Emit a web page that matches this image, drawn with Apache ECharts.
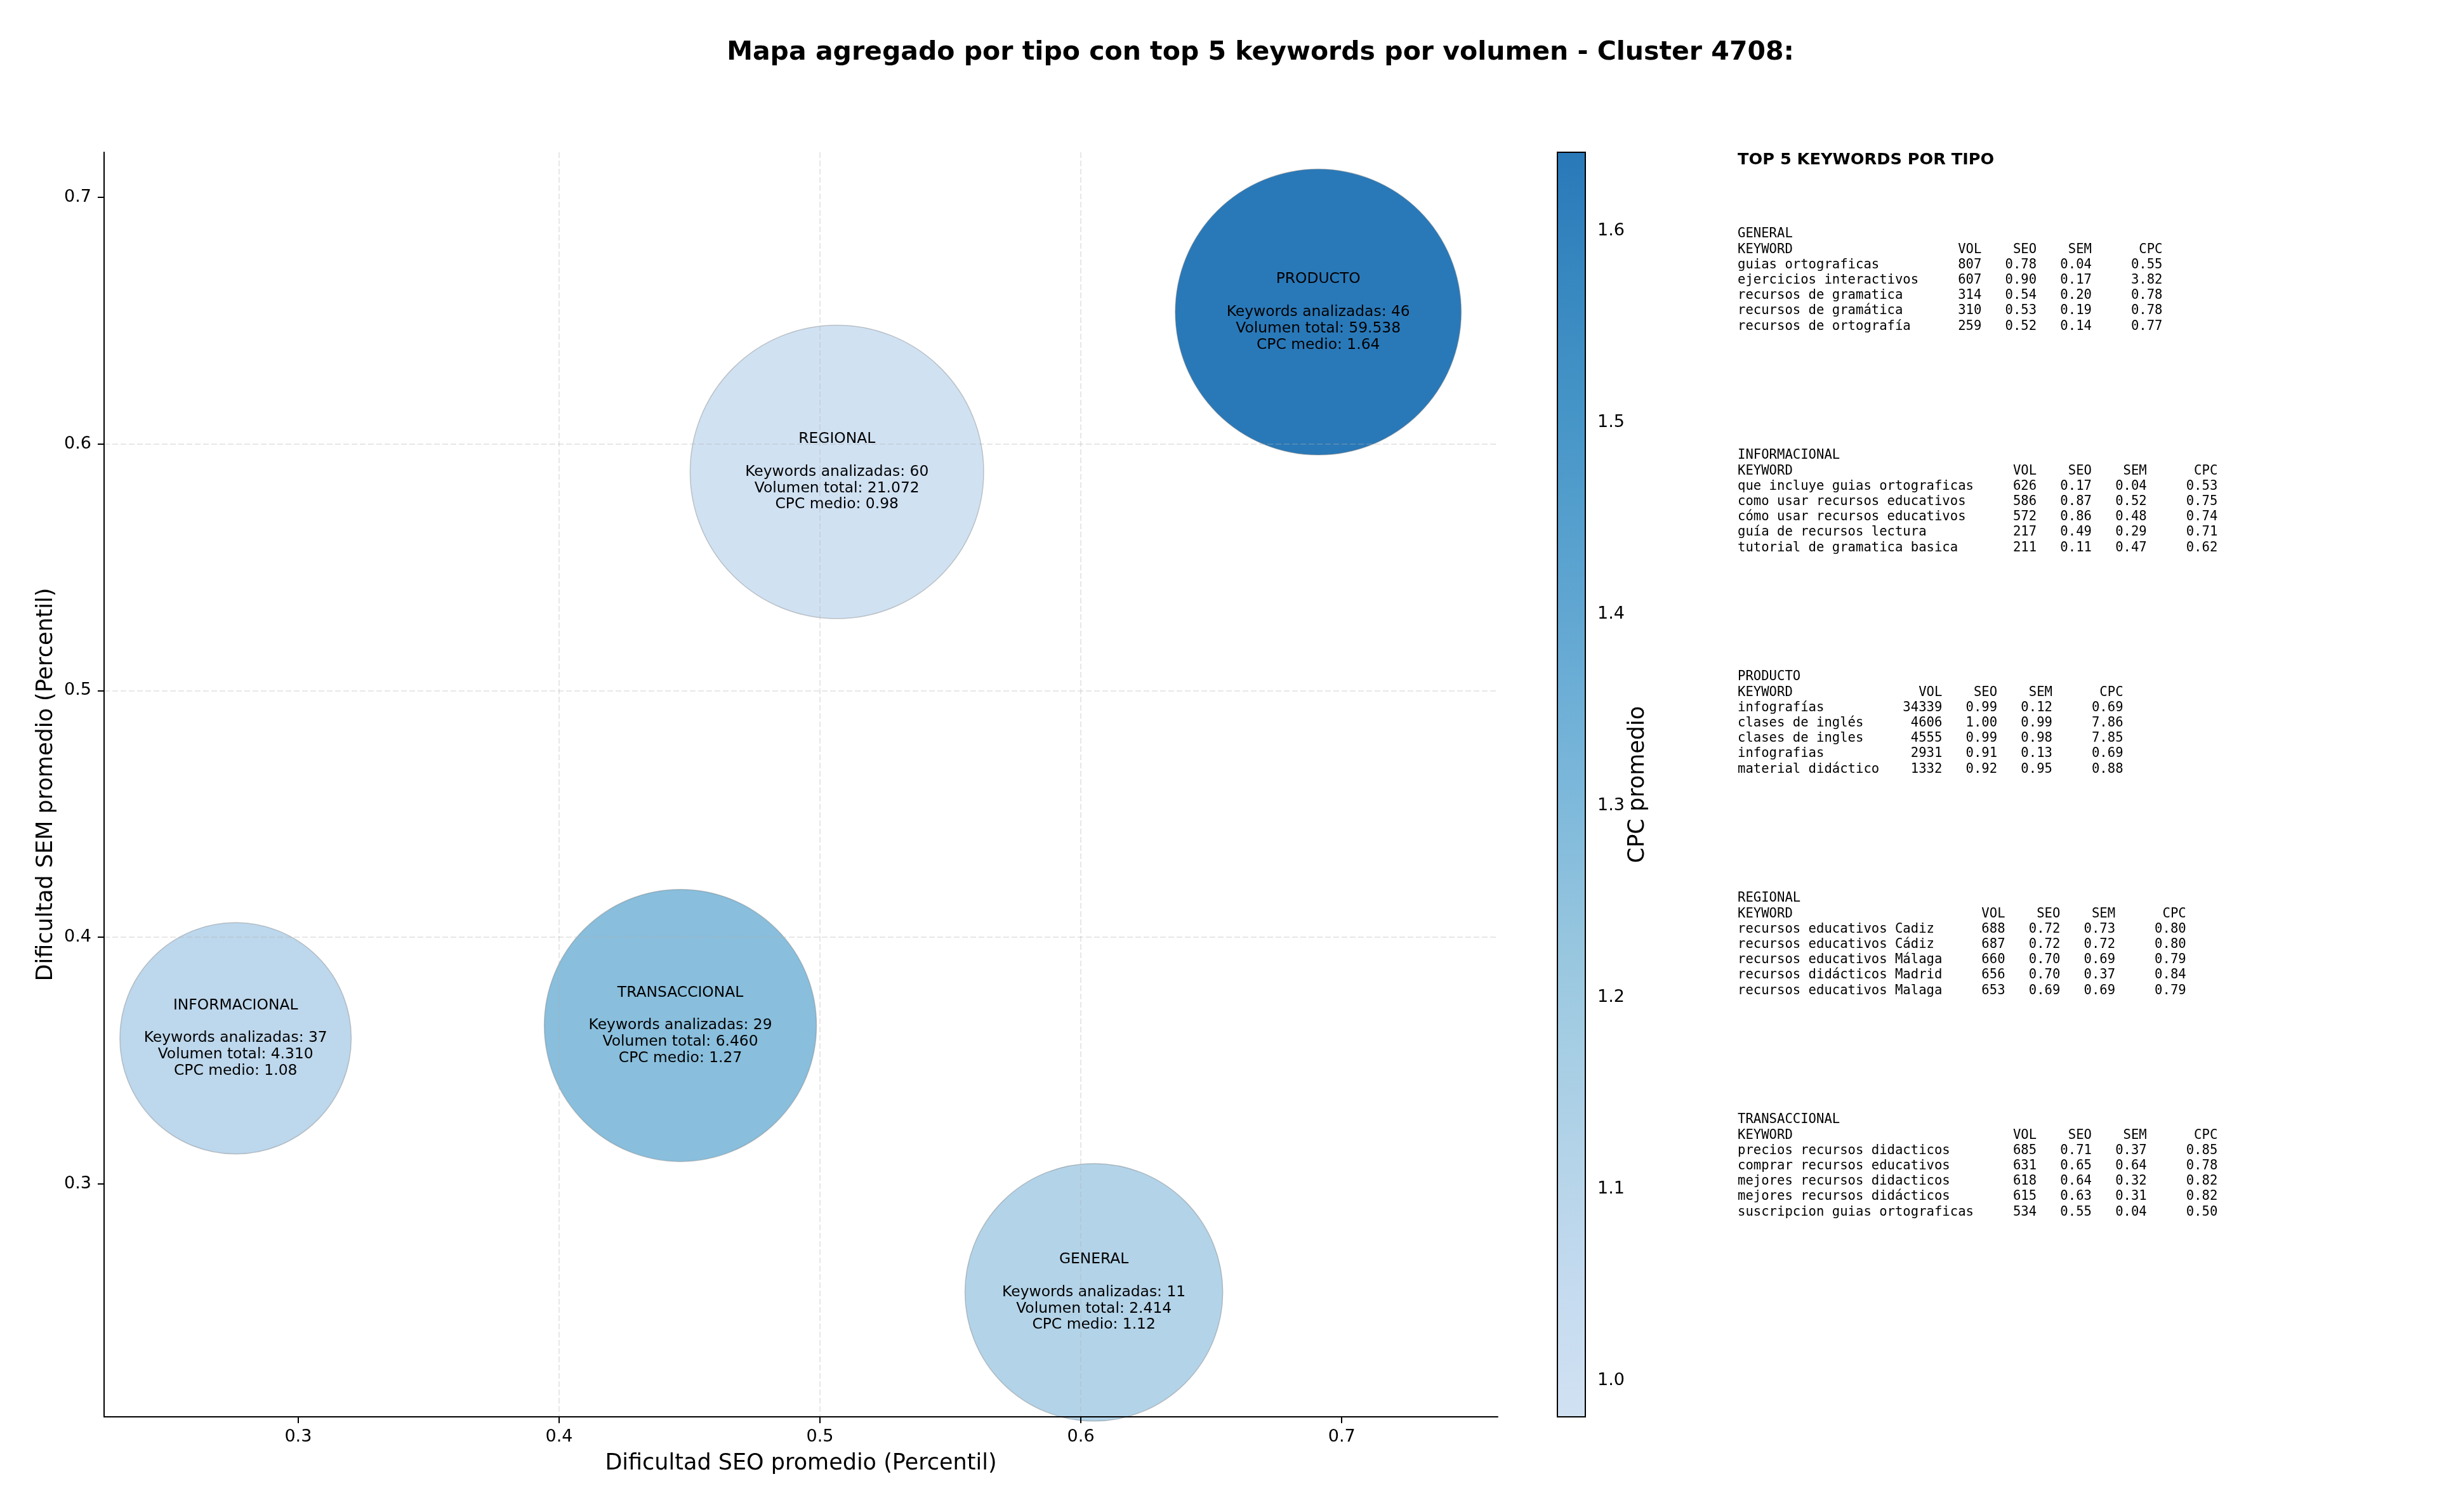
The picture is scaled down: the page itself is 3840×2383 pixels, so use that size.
<!DOCTYPE html>
<html>
<head>
<meta charset="utf-8">
<script src="https://cdn.jsdelivr.net/npm/echarts@6/dist/echarts.min.js"></script>
<style>
  html, body { margin: 0; padding: 0; background: #fff; }
  #chart { width: 3840px; height: 2383px; }
</style>
</head>
<body>
<div id="chart"></div>
<script>
// datos agregados por tipo
const tipos = ['GENERAL', 'INFORMACIONAL', 'PRODUCTO', 'REGIONAL', 'TRANSACCIONAL'];
const seoMedio = [0.605, 0.276, 0.691, 0.5065, 0.4465];
const semMedio = [0.256, 0.359, 0.6535, 0.5887, 0.3642];
const keywordsAnalizadas = [11, 37, 46, 60, 29];
const volumenTotal = [2414, 4310, 59538, 21072, 6460];
const cpcMedio = [1.12, 1.08, 1.641, 0.981, 1.27];
const pesoBurbuja = [16.5, 13.3, 20.3, 21.4, 18.4];

const xTicks = [0.3, 0.4, 0.5, 0.6, 0.7];
const yTicks = [0.3, 0.4, 0.5, 0.6, 0.7];
const cpcTicks = [1.0, 1.1, 1.2, 1.3, 1.4, 1.5, 1.6];

// top 5 keywords: keyword, vol, seo, sem, cpc
const topGeneral = [
  ['guias ortograficas', 807, 0.78, 0.04, 0.55],
  ['ejercicios interactivos', 607, 0.90, 0.17, 3.82],
  ['recursos de gramatica', 314, 0.54, 0.20, 0.78],
  ['recursos de gramática', 310, 0.53, 0.19, 0.78],
  ['recursos de ortografía', 259, 0.52, 0.14, 0.77]
];
const topInformacional = [
  ['que incluye guias ortograficas', 626, 0.17, 0.04, 0.53],
  ['como usar recursos educativos', 586, 0.87, 0.52, 0.75],
  ['cómo usar recursos educativos', 572, 0.86, 0.48, 0.74],
  ['guía de recursos lectura', 217, 0.49, 0.29, 0.71],
  ['tutorial de gramatica basica', 211, 0.11, 0.47, 0.62]
];
const topProducto = [
  ['infografías', 34339, 0.99, 0.12, 0.69],
  ['clases de inglés', 4606, 1.00, 0.99, 7.86],
  ['clases de ingles', 4555, 0.99, 0.98, 7.85],
  ['infografias', 2931, 0.91, 0.13, 0.69],
  ['material didáctico', 1332, 0.92, 0.95, 0.88]
];
const topRegional = [
  ['recursos educativos Cadiz', 688, 0.72, 0.73, 0.80],
  ['recursos educativos Cádiz', 687, 0.72, 0.72, 0.80],
  ['recursos educativos Málaga', 660, 0.70, 0.69, 0.79],
  ['recursos didácticos Madrid', 656, 0.70, 0.37, 0.84],
  ['recursos educativos Malaga', 653, 0.69, 0.69, 0.79]
];
const topTransaccional = [
  ['precios recursos didacticos', 685, 0.71, 0.37, 0.85],
  ['comprar recursos educativos', 631, 0.65, 0.64, 0.78],
  ['mejores recursos didacticos', 618, 0.64, 0.32, 0.82],
  ['mejores recursos didácticos', 615, 0.63, 0.31, 0.82],
  ['suscripcion guias ortograficas', 534, 0.55, 0.04, 0.50]
];
const topPorTipo = [topGeneral, topInformacional, topProducto, topRegional, topTransaccional];

const cpcMin = Math.min(...cpcMedio);
const cpcMax = Math.max(...cpcMedio);

// Blues (recortado)
const bluesBase = ['#f7fbff', '#deebf7', '#c6dbef', '#9ecae1', '#6baed6', '#4292c6', '#2171b5', '#08519c', '#08306b'];
function blues(t) {
  const p = t * 8;
  const i = Math.min(7, Math.floor(p));
  const f = p - i;
  const a = bluesBase[i], b = bluesBase[i + 1];
  const ch = k => {
    const ca = parseInt(a.substr(1 + 2 * k, 2), 16);
    const cb = parseInt(b.substr(1 + 2 * k, 2), 16);
    return Math.round(ca + (cb - ca) * f);
  };
  return 'rgb(' + ch(0) + ',' + ch(1) + ',' + ch(2) + ')';
}
const paleta = [];
for (let k = 0; k <= 20; k++) paleta.push(blues(0.2 + 0.52 * k / 20));

const fmtMiles = v => String(v).replace(/\B(?=(\d{3})+(?!\d))/g, '.');

function tablaTexto(tipo, filas) {
  const w = Math.max(...filas.map(f => f[0].length)) + 2;
  const lineas = [tipo,
    'KEYWORD'.padEnd(w) + 'VOL'.padStart(6) + 'SEO'.padStart(7) + 'SEM'.padStart(7) + 'CPC'.padStart(9)];
  filas.forEach(f => {
    lineas.push(f[0].padEnd(w) + String(f[1]).padStart(6) + f[2].toFixed(2).padStart(7) +
      f[3].toFixed(2).padStart(7) + f[4].toFixed(2).padStart(9));
  });
  return lineas.join('\n');
}

const font = '"DejaVu Sans", sans-serif';

const graficos = [
  {
    type: 'text', x: 1986, y: 83,
    style: { text: 'Mapa agregado por tipo con top 5 keywords por volumen - Cluster 4708:', font: 'bold 41px ' + font, fill: '#000', textAlign: 'center', textVerticalAlign: 'middle' }
  },
  {
    type: 'text', x: 2738, y: 252,
    style: { text: 'TOP 5 KEYWORDS POR TIPO', font: 'bold 25.6px ' + font, fill: '#000', textAlign: 'left', textVerticalAlign: 'middle' }
  }
];
tipos.forEach((t, i) => {
  graficos.push({
    type: 'text', x: 2738, y: 357 + i * 349,
    style: { text: tablaTexto(t, topPorTipo[i]), font: '20.6px "DejaVu Sans Mono", monospace', lineHeight: 24.2, fill: '#000', textAlign: 'left', textVerticalAlign: 'top' }
  });
});

const chart = echarts.init(document.getElementById('chart'));
chart.setOption({
  backgroundColor: '#fff',
  animation: false,
  textStyle: { fontFamily: font },
  graphic: graficos,
  grid: [
    { left: 164, top: 240, width: 2196, height: 1993 },
    { left: 2454, top: 240, width: 44, height: 1993 }
  ],
  xAxis: [
    {
      type: 'value', gridIndex: 0, min: 0.2256, max: 0.7598, z: 3,
      name: 'Dificultad SEO promedio (Percentil)', nameLocation: 'middle', nameGap: 56,
      nameTextStyle: { fontSize: 35, color: '#000', fontFamily: font },
      axisLine: { onZero: false, lineStyle: { color: '#000', width: 2 } },
      axisTick: { customValues: xTicks, length: 10, lineStyle: { color: '#000', width: 2 } },
      axisLabel: { customValues: xTicks, fontSize: 27, color: '#000', margin: 18, formatter: v => v.toFixed(1) },
      splitLine: { show: true, showMinLine: false, showMaxLine: false, lineStyle: { color: 'rgba(176,176,176,0.3)', width: 2, type: [9, 4] } }
    },
    { type: 'value', gridIndex: 1, min: 0, max: 1, show: false }
  ],
  yAxis: [
    {
      type: 'value', gridIndex: 0, min: 0.2055, max: 0.7183, z: 3,
      name: 'Dificultad SEM promedio (Percentil)', nameLocation: 'middle', nameGap: 67,
      nameTextStyle: { fontSize: 35, color: '#000', fontFamily: font },
      axisLine: { onZero: false, lineStyle: { color: '#000', width: 2 } },
      axisTick: { customValues: yTicks, length: 10, lineStyle: { color: '#000', width: 2 } },
      axisLabel: { customValues: yTicks, fontSize: 27, color: '#000', margin: 20, formatter: v => v.toFixed(1) },
      splitLine: { show: true, showMinLine: false, showMaxLine: false, lineStyle: { color: 'rgba(176,176,176,0.3)', width: 2, type: [9, 4] } }
    },
    {
      type: 'value', gridIndex: 1, min: cpcMin, max: cpcMax, position: 'right',
      name: 'CPC promedio', nameLocation: 'middle', nameGap: 64, nameRotate: 90,
      nameTextStyle: { fontSize: 35, color: '#000', fontFamily: font },
      axisLine: { show: false },
      axisTick: { customValues: cpcTicks, length: 10, lineStyle: { color: '#000', width: 2 } },
      axisLabel: { customValues: cpcTicks, fontSize: 27, color: '#000', margin: 19, formatter: v => v.toFixed(1) },
      splitLine: { show: false }
    }
  ],
  visualMap: {
    type: 'continuous', show: false, seriesIndex: 0, dimension: 2,
    min: cpcMin, max: cpcMax, inRange: { color: paleta }
  },
  series: [
    {
      type: 'scatter', xAxisIndex: 0, yAxisIndex: 0, z: 2,
      data: tipos.map((t, i) => [seoMedio[i], semMedio[i], cpcMedio[i], pesoBurbuja[i], t, keywordsAnalizadas[i], volumenTotal[i]]),
      symbolSize: v => Math.sqrt(v[3]) * 100,
      itemStyle: { opacity: 1, borderColor: 'rgba(110,110,110,0.35)', borderWidth: 1.5 },
      emphasis: { disabled: true },
      label: {
        show: true, position: 'inside', color: '#000', fontSize: 23.4, lineHeight: 25.8, align: 'center',
        fontFamily: font,
        formatter: p => p.data[4] + '\n\nKeywords analizadas: ' + p.data[5] + '\nVolumen total: ' + fmtMiles(p.data[6]) + '\nCPC medio: ' + p.data[2].toFixed(2)
      }
    },
    {
      type: 'custom', xAxisIndex: 1, yAxisIndex: 1, silent: true,
      data: [[0, cpcMin, cpcMax]],
      renderItem: (params, api) => {
        const lo = api.coord([0, api.value(1)]);
        const hi = api.coord([1, api.value(2)]);
        const stops = paleta.map((c, k) => ({ offset: k / (paleta.length - 1), color: c }));
        return {
          type: 'rect',
          shape: { x: lo[0], y: hi[1], width: hi[0] - lo[0], height: lo[1] - hi[1] },
          style: { fill: new echarts.graphic.LinearGradient(0, 1, 0, 0, stops), stroke: '#000', lineWidth: 2 }
        };
      }
    }
  ]
});
</script>
</body>
</html>
